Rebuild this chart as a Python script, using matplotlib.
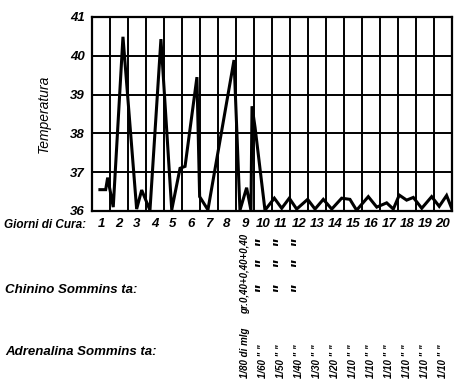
import matplotlib.pyplot as plt
import matplotlib.transforms as mtransforms
import numpy as np

plt.rcParams['font.family'] = ['Liberation Sans', 'DejaVu Sans']
plt.rcParams['font.style'] = 'italic'
plt.rcParams['font.weight'] = 'bold'

# temperature curve (day position, degrees)
days = [0.94, 1.26, 1.37, 1.68, 2.22, 2.98, 3.26, 3.72, 4.33, 4.93, 5.39, 5.67,
        6.33, 6.48, 6.94, 8.39, 8.72, 9.09, 9.33, 9.39, 9.56, 10.11, 10.63, 11.04,
        11.46, 11.87, 12.48, 12.89, 13.35, 13.82, 14.37, 14.83, 15.2, 15.85, 16.32,
        16.87, 17.24, 17.57, 17.98, 18.35, 18.82, 19.37, 19.79, 20.2, 20.48]
temps = [36.55, 36.55, 36.86, 36.1, 40.49, 36.05, 36.54, 36.02, 40.43, 36.03, 37.1, 37.15,
         39.45, 36.37, 36.03, 39.89, 36.02, 36.6, 36.02, 38.7, 38.15, 36.02, 36.33, 36.07,
         36.33, 36.05, 36.3, 36.05, 36.3, 36.05, 36.33, 36.3, 36.02, 36.37, 36.1,
         36.21, 36.05, 36.41, 36.28, 36.35, 36.07, 36.37, 36.12, 36.4, 36.07]

day_labels = [str(d) for d in range(1, 21)]
temp_ticks = [36, 37, 38, 39, 40, 41]

chinino_day = 9
chinino_dose = "gr.0,40+0,40+0,40"
chinino_ditto_days = [10, 11, 12]

adren_days = list(range(9, 21))
adren_doses = ["1/80 di mlg", "1/60", "1/50", "1/40", "1/30", "1/20",
               "1/10", "1/10", "1/10", "1/10", "1/10", "1/10"]

fig = plt.figure(figsize=(4.54, 3.80), dpi=100)
ax = fig.add_axes([92 / 454, 1 - 211 / 380, 360 / 454, 194 / 380])

ax.plot(days, temps, color='black', lw=2.2, solid_joinstyle='miter')

ax.set_xlim(0.5, 20.5)
ax.set_ylim(36, 41)
ax.set_xticks(range(1, 21))
ax.set_xticklabels(day_labels)
ax.set_xticks(np.arange(0.5, 21, 1), minor=True)
ax.set_yticks(temp_ticks)
ax.tick_params(which='both', length=0)
ax.tick_params(axis='x', pad=5, labelsize=9.5)
ax.tick_params(axis='y', pad=5, labelsize=9.5)
ax.grid(which='minor', axis='x', color='black', lw=1.4)
ax.grid(which='major', axis='y', color='black', lw=1.4)
for s in ax.spines.values():
    s.set_linewidth(1.6)

ax.set_ylabel("Temperatura", fontsize=10, fontweight='normal', labelpad=14)

trans = mtransforms.blended_transform_factory(ax.transData, fig.transFigure)

fig.text(4 / 454, 1 - 225 / 380, "Giorni di Cura:", fontsize=8.5, va='center')
fig.text(5 / 454, 1 - 290 / 380, "Chinino Sommins ta:", fontsize=9.5, va='center')
fig.text(5 / 454, 1 - 352 / 380, "Adrenalina Sommins ta:", fontsize=9.5, va='center')

ax.text(chinino_day, 1 - 314 / 380, chinino_dose, transform=trans, rotation=90,
        ha='center', va='bottom', fontsize=7)
for d in chinino_ditto_days:
    for ypx in [242, 263, 288]:
        ax.text(d, 1 - ypx / 380, '"', transform=trans, rotation=90,
                ha='center', va='center', fontsize=13)

for d, dose in zip(adren_days, adren_doses):
    label = dose if d == 9 else dose + ' " "'
    ax.text(d, 1 - 378 / 380, label, transform=trans, rotation=90,
            ha='center', va='bottom', fontsize=7)

fig.savefig("out.png", dpi=100)
